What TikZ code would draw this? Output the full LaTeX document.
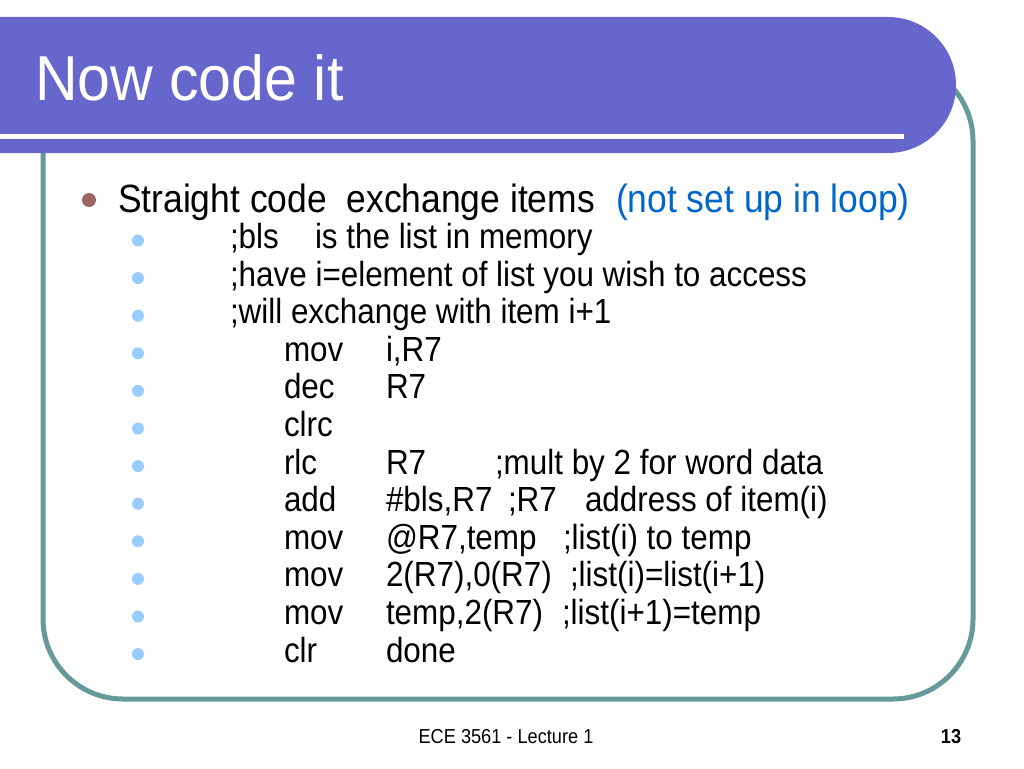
\documentclass[tikz,border=0pt]{standalone}
\usepackage{fontspec}
\setmainfont[FakeStretch=0.9]{Liberation Sans}
\newfontfamily\titlefont[FakeStretch=0.93]{Liberation Sans}
\definecolor{banner}{HTML}{6666CC}
\definecolor{frame}{HTML}{669999}
\definecolor{mainbul}{HTML}{996666}
\definecolor{subbul}{HTML}{99CCFF}
\definecolor{bluetxt}{HTML}{0066CC}
\tikzset{
  txt/.style={anchor=base west, inner sep=0pt, outer sep=0pt},
  ttl/.style={txt, text=white, font=\titlefont\fontsize{63.5}{72}\selectfont},
  mtxt/.style={txt, font=\fontsize{39.4}{46}\selectfont},
  stxt/.style={txt, font=\fontsize{34.9}{42}\selectfont},
  ftxt/.style={anchor=base, inner sep=0pt, font=\fontsize{20.2}{24}\selectfont},
}
\begin{document}
\begin{tikzpicture}[x=1pt,y=-1pt]
\useasboundingbox (0,0) rectangle (1024,768);
\clip (0,0) rectangle (1024,768);
\fill[white] (0,0) rectangle (1024,768);
% content frame
\draw[frame, line width=5pt, rounded corners=80pt] (43,61) rectangle (973,699);
% title banner
\fill[banner, rounded corners=68pt] (-120,17) rectangle (956,153);
\draw[white, line width=5pt] (0,136) -- (904,136);
\node[ttl] (title) at (35,100) {Now code it};
% main bullet
\fill[mainbul] (89,200) circle (7);
\node[mtxt] (m1) at (118,212) {Straight code\ \ exchange items};
\node[mtxt, text=bluetxt] (m2) at (616,212) {(not set up in loop)};
% sub bullets
\foreach \k in {0,...,11} {
  \fill[subbul] (138,{248.5+37.6*\k-8}) circle (6);
}
\node[stxt] (a1) at (230,248.5) {;bls};
\node[stxt] (a2) at (315,248.5) {is the list in memory};
\node[stxt] (b1) at (230,286.1) {;have i=element of list you wish to access};
\node[stxt] (c1) at (230,323.7) {;will exchange with item i+1};
\node[stxt] (d1) at (284,361.3) {mov};
\node[stxt] (d2) at (386,361.3) {i,R7};
\node[stxt] (e1) at (284,398.9) {dec};
\node[stxt] (e2) at (386,398.9) {R7};
\node[stxt] (f1) at (284,436.5) {clrc};
\node[stxt] (g1) at (284,474.1) {rlc};
\node[stxt] (g2) at (386,474.1) {R7};
\node[stxt] (g3) at (495,474.1) {;mult by 2 for word data};
\node[stxt] (h1) at (284,511.7) {add};
\node[stxt] (h2) at (386,511.7) {\#bls,R7};
\node[stxt] (h3) at (508,511.7) {;R7};
\node[stxt] (h4) at (585,511.7) {address of item(i)};
\node[stxt] (i1) at (284,549.3) {mov};
\node[stxt] (i2) at (386,549.3) {@R7,temp};
\node[stxt] (i3) at (563,549.3) {;list(i) to temp};
\node[stxt] (j1) at (284,586.9) {mov};
\node[stxt] (j2) at (386,586.9) {2(R7),0(R7)};
\node[stxt] (j3) at (570,586.9) {;list(i)=list(i+1)};
\node[stxt] (k1) at (284,624.5) {mov};
\node[stxt] (k2) at (386,624.5) {temp,2(R7)};
\node[stxt] (k3) at (562,624.5) {;list(i+1)=temp};
\node[stxt] (l1) at (284,662.1) {clr};
\node[stxt] (l2) at (386,662.1) {done};
% footer
\node[ftxt] (foot) at (506,743) {ECE 3561 - Lecture 1};
\node[ftxt, font=\fontsize{20.2}{24}\selectfont\bfseries] (page) at (951,743) {13};
\end{tikzpicture}
\end{document}
